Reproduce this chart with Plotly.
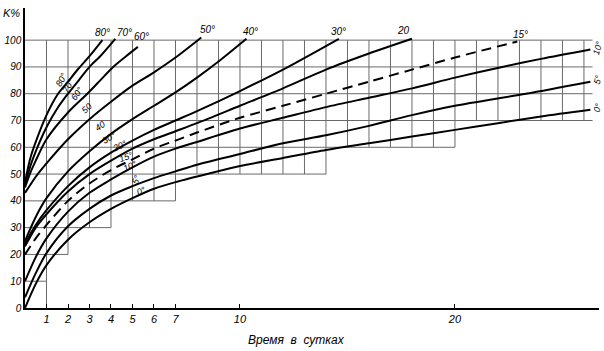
import plotly.graph_objects as go

# ---- data (days, strength %) ----
days_80 = [0, 0.25, 0.5, 1, 1.5, 2, 2.5, 3, 3.6]
pct_80 = [47, 56, 62, 72, 79.5, 84.5, 89.5, 94, 100]

days_70 = [0, 0.25, 0.5, 1, 1.5, 2, 2.5, 3, 3.5, 4.2]
pct_70 = [46, 53, 58.5, 67.5, 74.5, 80, 85, 90, 94, 100.5]

days_60 = [0, 0.25, 0.5, 1, 2, 2.9, 3.5, 4.1, 4.7, 5.25]
pct_60 = [45, 50.5, 55, 63, 73, 80, 85, 90, 94, 97.5]

days_50 = [0, 0.25, 0.5, 1, 2, 3, 4, 5, 6, 7, 8.2]
pct_50 = [43, 46, 49, 54, 63, 70.5, 77, 83, 88, 93.5, 101]

days_40 = [0, 0.5, 1, 2, 3, 4, 5, 6, 7, 8, 9, 10.3]
pct_40 = [25, 34, 41, 51, 58.5, 65, 70.5, 75.5, 80.5, 86, 92, 100.5]

days_30 = [0, 0.5, 1, 2, 3, 4, 5, 6, 7, 8, 10, 12, 14.6]
pct_30 = [24, 31, 36.5, 45.5, 52.5, 58, 62.5, 66.5, 70, 73.5, 81, 89, 100.5]

days_20 = [0, 0.5, 1, 2, 3, 4, 5, 6, 7, 8, 10, 12, 14, 16, 18]
pct_20 = [23, 30, 35, 43.5, 50, 55, 59.5, 63, 66, 69, 75.5, 82, 89, 95, 100.5]

days_15 = [0, 0.5, 1, 2, 3, 4, 5, 6, 7, 8, 10, 12, 14, 16, 18, 20, 22.9]
pct_15 = [20, 26, 31, 40, 46.5, 51.5, 55.5, 59.5, 62.5, 65.5, 71, 75.5, 80, 84.5, 89, 93.5, 99.5]

days_10 = [0, 0.5, 1, 2, 3, 4, 5, 6, 7, 8, 10, 12, 14, 16, 18, 20, 22.2, 24, 26.3]
pct_10 = [10, 19, 26, 36, 43, 48, 52.5, 56.5, 59.5, 62, 67, 71, 75, 78.5, 82, 86, 90, 93, 96.5]

days_5 = [0, 0.5, 1, 2, 3, 4, 5, 6, 7, 8, 10, 12, 14, 16, 18, 20, 23.3, 26.3]
pct_5 = [4, 13, 20.5, 30.5, 37, 42, 45.5, 48.5, 51, 53.5, 57.5, 61.5, 64.5, 68, 72, 75.5, 80, 84.5]

days_0 = [0, 0.5, 1, 2, 3, 4, 5, 6, 7, 8.7, 10, 12, 14, 16, 18, 20, 22, 24, 26.3]
pct_0 = [0, 9, 16, 25.5, 32, 37, 41, 44.5, 47, 50.5, 53, 56, 59, 61.5, 64, 66.5, 69, 71.5, 74]

x_tick_vals = [1, 2, 3, 4, 5, 6, 7, 10, 20]
y_tick_vals = [0, 10, 20, 30, 40, 50, 60, 70, 80, 90, 100]

# staircase grid: level -> right end of its horizontal line (days)
grid_levels = [10, 20, 30, 40, 50, 60, 70, 80, 90, 100]
grid_ends = [1, 2, 4, 7, 14, 20, 26.4, 26.4, 26.4, 26.4]
grid_days = list(range(1, 27))

curves = [
    ("80°", days_80, pct_80, "solid"),
    ("70°", days_70, pct_70, "solid"),
    ("60°", days_60, pct_60, "solid"),
    ("50°", days_50, pct_50, "solid"),
    ("40°", days_40, pct_40, "solid"),
    ("30°", days_30, pct_30, "solid"),
    ("20", days_20, pct_20, "solid"),
    ("15°", days_15, pct_15, "dash"),
    ("10°", days_10, pct_10, "solid"),
    ("5°", days_5, pct_5, "solid"),
    ("0°", days_0, pct_0, "solid"),
]

FONT = "Liberation Sans"
fig = go.Figure()

for name, d, p, dash in curves:
    fig.add_trace(go.Scatter(
        x=d, y=p, mode="lines", name=name,
        line=dict(color="black", width=2, shape="spline", smoothing=0.8,
                  dash="10px,6px" if dash == "dash" else "solid"),
        hoverinfo="skip", showlegend=False))

shapes = []
grid_style = dict(color="#6a6a6a", width=1)
for lvl, end in zip(grid_levels, grid_ends):
    shapes.append(dict(type="line", xref="x", yref="y", x0=-0.25, x1=end,
                       y0=lvl, y1=lvl, line=grid_style, layer="below"))
for day in grid_days:
    bottom = 0
    if day > 1:
        bottom = min(l for l, e in zip(grid_levels, grid_ends) if e >= day)
    shapes.append(dict(type="line", xref="x", yref="y", x0=day, x1=day,
                       y0=bottom, y1=100, line=grid_style, layer="below"))

ann = []
# labels at upper ends of curves
top_offsets = {"80°": (0, 8), "70°": (9, 6), "60°": (4, 10), "50°": (6, 8),
               "40°": (4, 7), "30°": (0, 7), "20": (-8, 8), "15°": (3, 7)}
for name, d, p, dash in curves:
    if name in top_offsets:
        dx, dy = top_offsets[name]
        ann.append(dict(x=d[-1], y=p[-1], xref="x", yref="y", text=name,
                        showarrow=False, xshift=dx, yshift=dy,
                        font=dict(family=FONT, size=10, style="italic", color="black")))
    else:
        ann.append(dict(x=d[-1], y=p[-1], xref="x", yref="y", text=name,
                        showarrow=False, xshift=7, yshift=2, textangle=-75,
                        font=dict(family=FONT, size=9, style="italic", color="black")))

# small labels along curves near the left
side_labels = [("80°", 1.7, 85, -62), ("70°", 2.0, 83, -60), ("60°", 2.4, 80, -55),
               ("50", 2.9, 74.5, -45), ("40", 3.5, 68, -35), ("30°", 3.9, 63.5, -30),
               ("20°", 4.4, 60.5, -25), ("15°", 4.7, 56.5, -20), ("10°", 4.9, 53, -25),
               ("5°", 5.2, 48, -70), ("0°", 5.4, 43.5, -25)]
for t, x, y, a in side_labels:
    ann.append(dict(x=x, y=y, xref="x", yref="y", text=t, showarrow=False, textangle=a,
                    font=dict(family=FONT, size=9, style="italic", color="black")))

ann.append(dict(x=12.65, y=-0.105, xref="x", yref="paper", yanchor="middle",
                text="Время  в  сутках", showarrow=False,
                font=dict(family=FONT, size=12, style="italic", color="black")))
ann.append(dict(x=-0.005, y=1.01, xref="paper", yref="paper", text="K%",
                showarrow=False, xanchor="right", yanchor="top",
                font=dict(family=FONT, size=11, style="italic", color="black")))

fig.update_layout(
    width=604, height=351,
    margin=dict(l=25, r=5, t=8, b=43),
    paper_bgcolor="white", plot_bgcolor="white",
    shapes=shapes, annotations=ann, showlegend=False,
    xaxis=dict(range=[0, 26.7], tickvals=x_tick_vals, ticktext=[str(v) for v in x_tick_vals],
               showline=True, linecolor="black", linewidth=1.5, showgrid=False, zeroline=False,
               ticks="inside", ticklen=4, tickcolor="black",
               tickfont=dict(family=FONT, size=11, style="italic", color="black")),
    yaxis=dict(range=[0, 112], tickvals=y_tick_vals, ticktext=[str(v) for v in y_tick_vals],
               showline=True, linecolor="black", linewidth=1.5, showgrid=False, zeroline=False,
               ticks="", tickfont=dict(family=FONT, size=10, style="italic", color="black")),
)

fig.write_html("out.html")
